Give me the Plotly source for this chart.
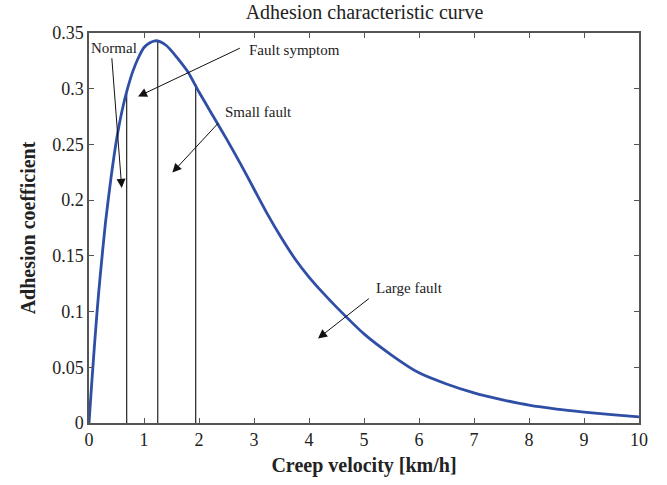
import plotly.graph_objects as go

# Curve values
creep_velocity = [0, 0.05, 0.1, 0.15, 0.2, 0.3, 0.4, 0.5, 0.6, 0.7, 0.8, 0.9, 1.0, 1.1,
                  1.2, 1.3, 1.4, 1.5, 1.6, 1.8, 2.0, 2.25, 2.5, 2.75, 3.0, 3.25, 3.5,
                  3.75, 4.0, 4.25, 4.5, 5.0, 5.5, 6.0, 6.5, 7.0, 7.5, 8.0, 8.5, 9.0,
                  9.5, 10.0]
adhesion = [0, 0.036, 0.070, 0.102, 0.130, 0.180, 0.220, 0.254, 0.280, 0.300, 0.316,
            0.328, 0.337, 0.341, 0.343, 0.342, 0.339, 0.334, 0.328, 0.315, 0.297,
            0.276, 0.255, 0.233, 0.210, 0.187, 0.166, 0.147, 0.131, 0.117, 0.104,
            0.080, 0.061, 0.045, 0.035, 0.027, 0.021, 0.016, 0.0125, 0.0098, 0.0075,
            0.0055]

# Vertical marker lines (x position, top value)
marker_x = [0.685, 1.25, 1.94]
marker_top = [0.295, 0.343, 0.304]

# Annotation labels: text, text position, arrow tail, arrow head (data units)
labels = ["Normal", "Fault symptom", "Small fault", "Large fault"]
label_x = [0.458, 3.735, 3.08, 5.836]
label_y = [0.3365, 0.3344, 0.2795, 0.1208]
tail_x = [0.413, 2.77, 2.376, 5.116]
tail_y = [0.3287, 0.337, 0.2705, 0.1127]
head_x = [0.595, 0.891, 1.516, 4.164]
head_y = [0.211, 0.293, 0.2247, 0.0759]

xticks = [0, 1, 2, 3, 4, 5, 6, 7, 8, 9, 10]
yticks = [0, 0.05, 0.1, 0.15, 0.2, 0.25, 0.3, 0.35]
yticklabels = ["0", "0.05", "0.1", "0.15", "0.2", "0.25", "0.3", "0.35"]

font_family = "Liberation Serif"

fig = go.Figure()

for mx, mt in zip(marker_x, marker_top):
    fig.add_trace(go.Scatter(x=[mx, mx], y=[0, mt], mode="lines",
                             line=dict(color="#222222", width=1.2),
                             showlegend=False, hoverinfo="skip"))

fig.add_trace(go.Scatter(x=creep_velocity, y=adhesion, mode="lines",
                         line=dict(color="#2f4ea6", width=2.8, shape="spline", smoothing=0.6),
                         showlegend=False))

for t, lx, ly, tx, ty, hx, hy in zip(labels, label_x, label_y, tail_x, tail_y, head_x, head_y):
    fig.add_annotation(x=hx, y=hy, ax=tx, ay=ty, xref="x", yref="y", axref="x", ayref="y",
                       text="", showarrow=True, arrowhead=2, arrowsize=1.8, arrowwidth=1,
                       arrowcolor="#111111", standoff=0, startstandoff=0)
    fig.add_annotation(x=lx, y=ly, xref="x", yref="y", text=t, showarrow=False,
                       font=dict(family=font_family, size=15, color="#222222"))

axis_common = dict(showline=True, linecolor="#555555", linewidth=1.5, mirror="ticks",
                   ticks="inside", ticklen=5, tickcolor="#555555", tickwidth=1,
                   showgrid=False, zeroline=False,
                   tickfont=dict(family=font_family, size=18, color="#222222"))

fig.update_layout(
    width=667, height=485,
    margin=dict(l=89, r=28, t=33, b=62),
    plot_bgcolor="white", paper_bgcolor="white",
    title=dict(text="Adhesion characteristic curve", x=0.5465, xanchor="center",
               y=0.975, yanchor="middle",
               font=dict(family=font_family, size=20, color="#222222")),
    xaxis=dict(range=[0, 10], tickvals=xticks,
               title=dict(text="<b>Creep velocity [km/h]</b>", standoff=9,
                          font=dict(family=font_family, size=20, color="#222222")),
               **axis_common),
    yaxis=dict(range=[0, 0.35], tickvals=yticks, ticktext=yticklabels,
               title=dict(text="<b>Adhesion coefficient</b>", standoff=11,
                          font=dict(family=font_family, size=20, color="#222222")),
               **axis_common),
)

fig.write_html("out.html")
